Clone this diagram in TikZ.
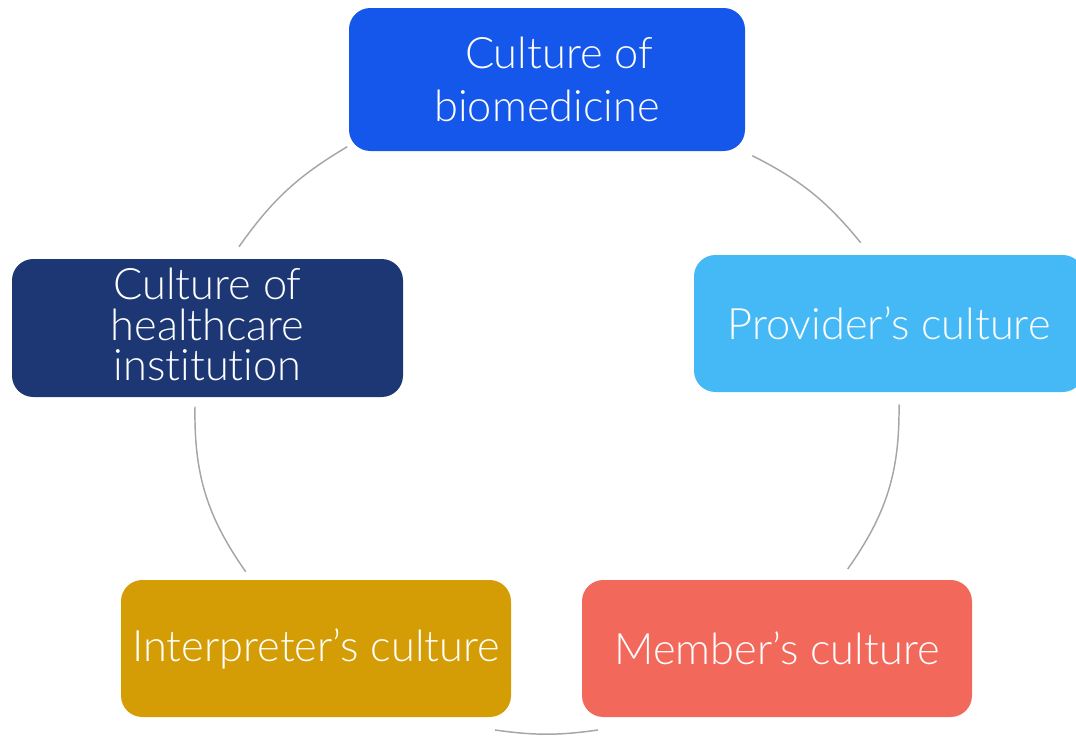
\documentclass[tikz,border=0pt]{standalone}
\usepackage{fontspec}
\setmainfont{Lato}[UprightFont=* Light, Ligatures=NoCommon]
\definecolor{cBio}{RGB}{21,87,235}
\definecolor{cProv}{RGB}{69,185,245}
\definecolor{cMem}{RGB}{242,105,91}
\definecolor{cInt}{RGB}{213,157,5}
\definecolor{cHea}{RGB}{28,55,115}
\definecolor{cArc}{RGB}{166,166,166}
\begin{document}
\begin{tikzpicture}[x=0.75pt,y=-0.75pt,
  box/.style={rounded corners=16pt, text=white, align=center, inner sep=0pt,
    font=\fontsize{32.5}{40}\selectfont, minimum width=292.5pt, minimum height=102.75pt},
  arcline/.style={draw=cArc, line width=1.1pt}]
\useasboundingbox (0,0) rectangle (1076,736);
\node[box, fill=cBio, minimum width=297pt, minimum height=107.25pt] (bio) at (547,79.5) {\hspace*{18pt}Culture of\\biomedicine};
\node[box, fill=cProv] (prov) at (889,323.5) {Provider’s culture};
\node[box, fill=cMem] (mem) at (777,648.5) {Member’s culture};
\node[box, fill=cInt] (int) at (316,648.5) {Interpreter’s culture};
\node[box, fill=cHea, minimum width=293.25pt, minimum height=103.5pt] (hea) at (207.5,328) {};
\node[text=white, align=center, inner sep=0pt, font=\fontsize{32.5}{30.6}\selectfont]
  (heatext) at (207.5,324.5) {Culture of\\healthcare\\institution};
% arc end points
\coordinate (a1s) at (347.3,146.7); \coordinate (a1e) at (239,246.7);
\coordinate (a2s) at (860.7,242.7); \coordinate (a2e) at (752.3,155.7);
\coordinate (a3s) at (847.7,569);   \coordinate (a3e) at (899,404.3);
\coordinate (a4s) at (195,406.7);   \coordinate (a4e) at (245.7,571.7);
\coordinate (a5s) at (495,730);     \coordinate (a5e) at (598,730);
\draw[arcline] (a1s) to[bend right=12] (a1e);
\draw[arcline] (a2s) to[bend right=12] (a2e);
\draw[arcline] (a3s) to[bend right=18] (a3e);
\draw[arcline] (a4s) to[bend right=18] (a4e);
\draw[arcline] (a5s) to[bend right=8] (a5e);
\end{tikzpicture}
\end{document}
